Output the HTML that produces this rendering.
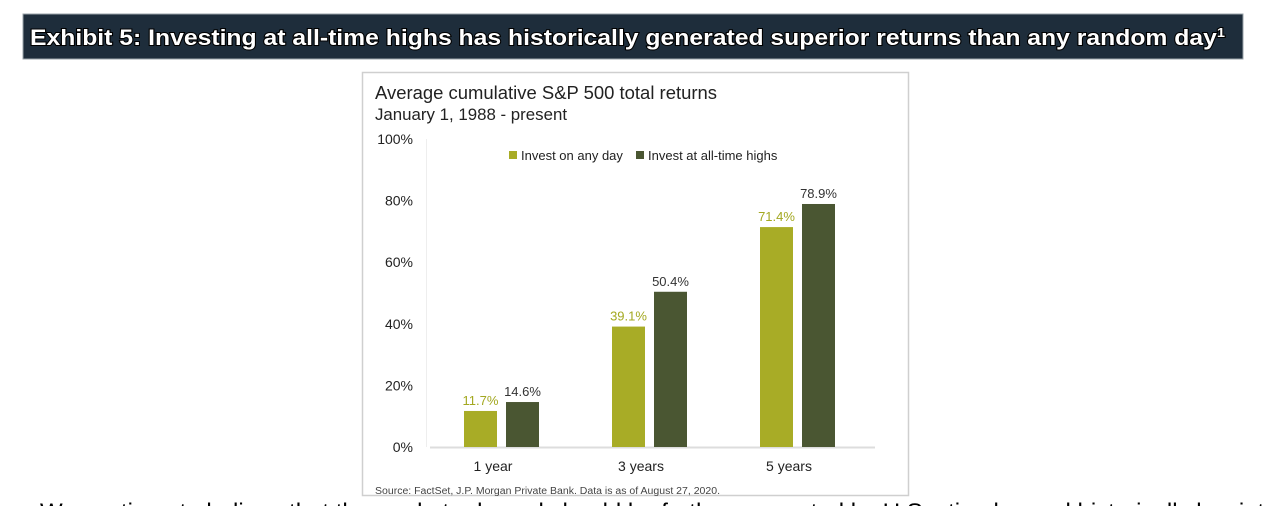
<!DOCTYPE html>
<html><head><meta charset="utf-8"><style>
html,body{margin:0;padding:0;background:#fff;width:1265px;height:506px;overflow:hidden}
svg{display:block;font-family:"Liberation Sans",sans-serif}
</style></head><body>
<svg width="1265" height="506" viewBox="0 0 1265 506">
<rect x="23" y="14" width="1220" height="45" fill="#1e2d3b" stroke="#9aa3aa" stroke-width="1"/>
<text x="30" y="45" font-size="22" font-weight="bold" fill="#fff" stroke="#000" stroke-width="2" paint-order="stroke" textLength="1195" lengthAdjust="spacingAndGlyphs">Exhibit 5: Investing at all-time highs has historically generated superior returns than any random day<tspan font-size="13" dy="-8">1</tspan></text>
<rect x="362.5" y="72.5" width="546" height="423" fill="#fff" stroke="#cfcfcf" stroke-width="1.5"/>
<text x="375" y="99" font-size="18" fill="#222" textLength="342" lengthAdjust="spacingAndGlyphs">Average cumulative S&amp;P 500 total returns</text>
<text x="375" y="120" font-size="17" fill="#222" textLength="192" lengthAdjust="spacingAndGlyphs">January 1, 1988 - present</text>
<g id="plot"></g>
<text x="375" y="494" font-size="10" fill="#444" textLength="345" lengthAdjust="spacingAndGlyphs">Source: FactSet, J.P. Morgan Private Bank. Data is as of August 27, 2020.</text>
<text x="40" y="520" font-size="24" fill="#000">We continue to believe that the market rebound should be further supported by U.S. stimulus and historically low interest rates</text>
</svg>
<script>
const categories=["1 year","3 years","5 years"];
const anyDay=[11.7,39.1,71.4];
const atHighs=[14.6,50.4,78.9];
const yTicks=[0,20,40,60,80,100];
const seriesNames=["Invest on any day","Invest at all-time highs"];
const NS="http://www.w3.org/2000/svg";
const g=document.getElementById('plot');
const y=v=>447-v*3.08;
const bandX=i=>427+148*i;
function mk(t,a,txt){const e=document.createElementNS(NS,t);for(const k in a)e.setAttribute(k,a[k]);if(txt!==undefined)e.textContent=txt;g.appendChild(e);return e;}
yTicks.forEach(v=>{
 const e=mk('text',{x:413,y:y(v)+5,'font-size':14,'text-anchor':'end',fill:'#222'},v+'%');
 
 
});
const ax=mk('line',{x1:430,y1:447.5,x2:875,y2:447.5,stroke:'#ddd','stroke-width':2});


const yl=mk('line',{x1:426.5,y1:139,x2:426.5,y2:447,stroke:'#eee','stroke-width':1});


const cols=['#a8ac26','#4a5632'];
const lblCols=['#a3a820','#333'];
categories.forEach((c,i)=>{
 const cx=bandX(i)+74;
 [anyDay[i],atHighs[i]].forEach((v,s)=>{
  const x=cx-37+s*42;
  const r=mk('rect',{x:x,y:y(v),width:33,height:447-y(v),fill:cols[s]});
  
  
  const t=mk('text',{x:x+16.5,y:y(v)-6,'font-size':13,'text-anchor':'middle',fill:lblCols[s]},v.toFixed(1)+'%');
  
  
 });
 const l=mk('text',{x:cx-8,y:471,'font-size':14,'text-anchor':'middle',fill:'#222'},c);
 
 
});
const lx=[509,636];
seriesNames.forEach((n,s)=>{
 const r=mk('rect',{x:lx[s],y:151,width:8,height:8,fill:cols[s]});
 
 
 const t=mk('text',{x:lx[s]+12,y:160,'font-size':13,fill:'#222'},n);
 
 
});
</script>
</body></html>
